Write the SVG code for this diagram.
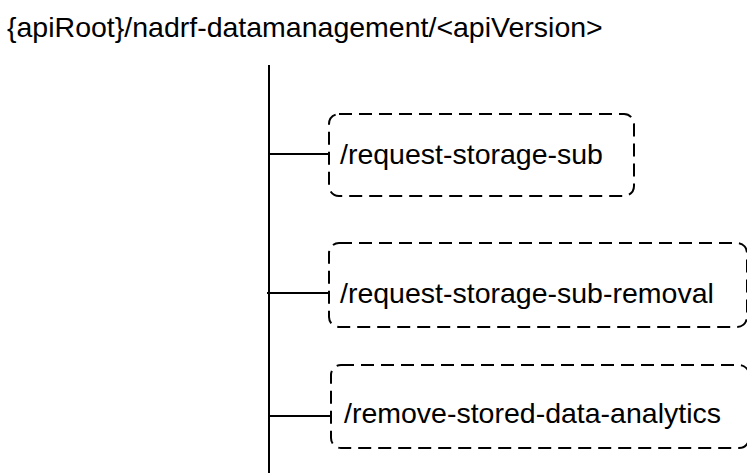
<svg xmlns="http://www.w3.org/2000/svg" width="747" height="473" viewBox="0 0 747 473">
<style>
text{font-family:"Liberation Sans",Arial,sans-serif;font-size:28.5px;fill:#000}
.box{fill:none;stroke:#000;stroke-width:2;stroke-dasharray:13,7}
.ln{stroke:#000;stroke-width:2;fill:none}
</style>
<rect width="747" height="473" fill="#fff"/>
<g id="root"><text x="7" y="37">{apiRoot}/nadrf-datamanagement/&lt;apiVersion&gt;</text></g>
<g id="connectors">
<line class="ln" x1="269" y1="65" x2="269" y2="473"/>
<line class="ln" x1="269" y1="154" x2="329" y2="154"/>
<line class="ln" x1="267" y1="293" x2="329" y2="293"/>
<line class="ln" x1="269" y1="416" x2="331" y2="416"/>
</g>
<g id="n1"><rect class="box" x="329" y="114" width="305" height="82" rx="10"/><text x="340" y="164">/request-storage-sub</text></g>
<g id="n2"><rect class="box" x="329" y="243" width="418" height="84" rx="10"/><text x="340" y="303">/request-storage-sub-removal</text></g>
<g id="n3"><rect class="box" x="331" y="365" width="418" height="83" rx="10"/><text x="344" y="423">/remove-stored-data-analytics</text></g>
</svg>
